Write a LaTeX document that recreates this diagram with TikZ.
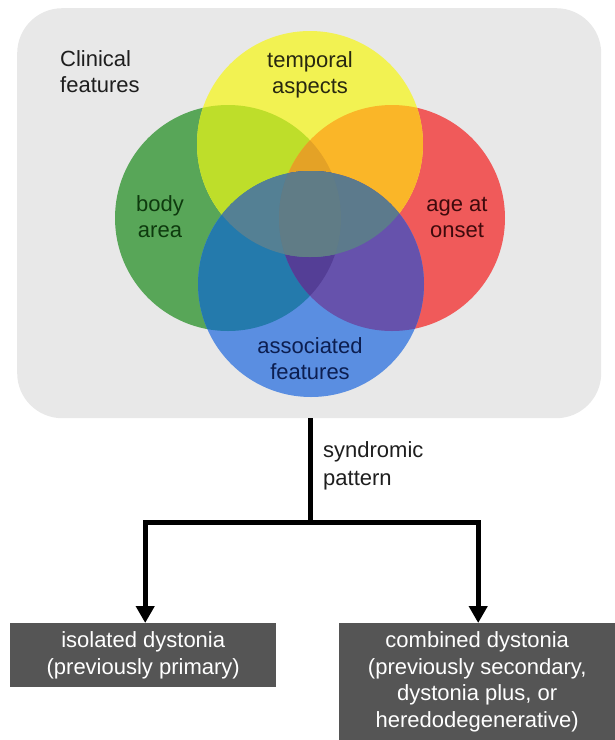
\documentclass[tikz,border=0pt]{standalone}
\usepackage{fontspec}
\setmainfont{Liberation Sans}
\usetikzlibrary{arrows.meta}
\definecolor{panelgray}{RGB}{232,232,232}
\definecolor{boxgray}{RGB}{85,85,85}
\definecolor{cyel}{RGB}{242,242,82}
\definecolor{cgreen}{RGB}{88,166,88}
\definecolor{cred}{RGB}{240,90,90}
\definecolor{cblue}{RGB}{90,142,225}
\definecolor{clime}{RGB}{190,222,42}
\definecolor{corange}{RGB}{250,182,40}
\definecolor{cdorange}{RGB}{228,162,38}
\definecolor{cbg}{RGB}{36,122,172}
\definecolor{cpurple}{RGB}{102,82,172}
\definecolor{cdpurple}{RGB}{84,62,150}
\definecolor{cteal}{RGB}{84,128,148}
\definecolor{cslate}{RGB}{92,122,140}
\definecolor{cband}{RGB}{96,124,134}
\definecolor{tgreen}{RGB}{14,58,14}
\definecolor{tred}{RGB}{62,10,12}
\definecolor{tblue}{RGB}{12,30,80}
\definecolor{tyel}{RGB}{40,40,16}
\definecolor{tdark}{RGB}{30,30,30}
\begin{document}
\begin{tikzpicture}[x=1pt,y=-1pt,
  lbl/.style={font=\fontsize{22}{26}\selectfont, align=center, inner sep=0pt},
  outbox/.style={fill=boxgray, text=white, font=\fontsize{22}{26.5}\selectfont,
    align=center, inner sep=0pt, anchor=north west},
  conn/.style={line width=5pt, black},
  tip/.style={-{Triangle[length=17pt,width=18pt]}}]
\useasboundingbox (0,0) rectangle (615,740);
% panel
\node[fill=panelgray, rounded corners=45pt, minimum width=584pt, minimum height=410pt,
  anchor=north west, inner sep=0pt] (panel) at (17,8) {};
% circle centres
\coordinate (cY) at (310,144);
\coordinate (cG) at (228,218);
\coordinate (cR) at (392,218);
\coordinate (cB) at (311,284);
\def\rr{113}
% base circles
\fill[cgreen] (cG) circle[radius=\rr];
\fill[cred] (cR) circle[radius=\rr];
\fill[cyel] (cY) circle[radius=\rr];
\fill[cblue] (cB) circle[radius=\rr];
% overlaps
\begin{scope}\clip (cG) circle[radius=\rr]; \fill[clime] (cY) circle[radius=\rr];\end{scope}
\begin{scope}\clip (cR) circle[radius=\rr]; \fill[corange] (cY) circle[radius=\rr];\end{scope}
\begin{scope}\clip (cG) circle[radius=\rr]; \clip (cR) circle[radius=\rr]; \fill[cdorange] (cY) circle[radius=\rr];\end{scope}
\begin{scope}\clip (cB) circle[radius=\rr]; \fill[cbg] (cG) circle[radius=\rr];\end{scope}
\begin{scope}\clip (cB) circle[radius=\rr]; \fill[cpurple] (cR) circle[radius=\rr];\end{scope}
\begin{scope}\clip (cB) circle[radius=\rr]; \clip (cG) circle[radius=\rr]; \fill[cdpurple] (cR) circle[radius=\rr];\end{scope}
\begin{scope}\clip (cB) circle[radius=\rr]; \clip (cY) circle[radius=\rr]; \fill[cteal] (cG) circle[radius=\rr]; \fill[cslate] (cR) circle[radius=\rr];\end{scope}
\begin{scope}\clip (cB) circle[radius=\rr]; \clip (cY) circle[radius=\rr]; \clip (cG) circle[radius=\rr]; \fill[cband] (cR) circle[radius=\rr];\end{scope}
% labels
\node[lbl, align=left, anchor=west, text=tdark] (clin) at (60,72) {Clinical\\features};
\node[lbl, text=tyel] (temp) at (310,75) {temporal\\aspects};
\node[lbl, text=tgreen] (body) at (160,217) {body\\area};
\node[lbl, text=tred] (age) at (457,217) {age at\\onset};
\node[lbl, text=tblue] (assoc) at (310,359) {associated\\features};
% bottom part
\node[outbox, minimum width=266pt, minimum height=64pt] (iso) at (10,623)
  {isolated dystonia\\(previously primary)};
\node[outbox, minimum width=276pt, minimum height=117pt] (comb) at (339,623)
  {combined dystonia\\(previously secondary,\\dystonia plus, or\\heredodegenerative)};
\coordinate (split) at (310,522);
\draw[conn] (panel.south -| split) -- (split);
\draw[conn, tip] (split) -| ([xshift=2pt]iso.north);
\draw[conn, tip] (split) -| ([xshift=1pt]comb.north);
\node[lbl, align=left, anchor=west, text=tdark, font=\fontsize{22}{28}\selectfont] (synd) at (323,466) {syndromic\\pattern};
\end{tikzpicture}
\end{document}
